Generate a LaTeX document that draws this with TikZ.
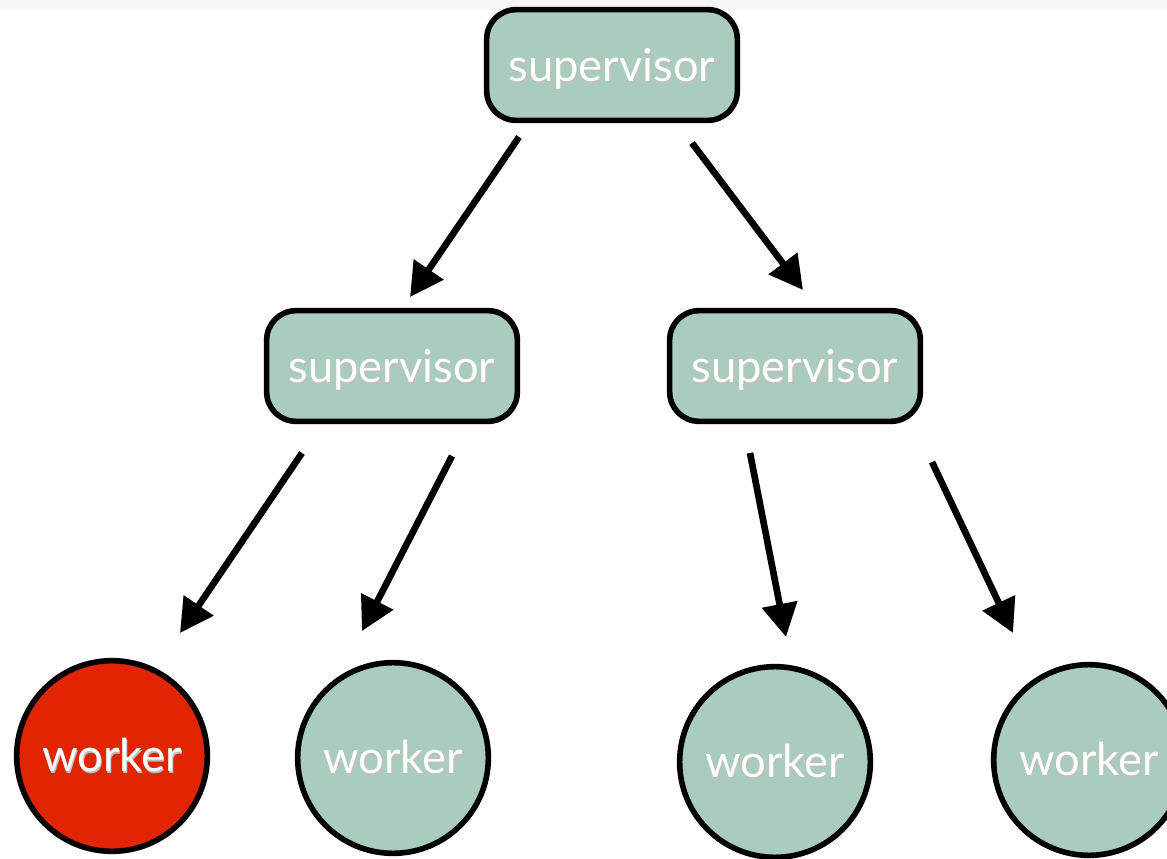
\documentclass[tikz,border=0pt]{standalone}
\usepackage{fontspec}
\setmainfont{Lato}
\usetikzlibrary{arrows.meta,calc}

\definecolor{sage}{HTML}{AACCBC}
\definecolor{alarm}{HTML}{E02500}
\definecolor{band}{HTML}{F6F6F6}

\newcommand{\glowtext}[1]{\rlap{\hspace{0.9pt}\raisebox{-1.3pt}{\textcolor{black!25}{#1}}}\textcolor{white}{#1}}

\begin{document}
\begin{tikzpicture}[x=0.75pt,y=-0.75pt,
  sup/.style={draw,line width=4.2pt,fill=sage,rounded corners=22pt,
    minimum width=188pt,minimum height=83pt,inner sep=0pt,text depth=0pt,
    font=\fontsize{34}{40}\selectfont},
  work/.style={circle,draw,line width=4.2pt,fill=sage,minimum size=143pt,
    inner sep=0pt,font=\fontsize{34}{40}\selectfont},
  link/.style={line width=5pt,-{Triangle[length=25pt,width=26pt]}}]
  \useasboundingbox (0,0) rectangle (1167,859);
  \fill[band] (0,0) rectangle (1167,10);

  % supervisors
  \node[sup] (top)  at (612,65)  {\glowtext{supervisor}};
  \node[sup] (midl) at (392,366) {\glowtext{supervisor}};
  \node[sup] (midr) at (795,366) {\glowtext{supervisor}};

  % workers
  \node[work,fill=alarm] (w1) at (112,756)  {\glowtext{worker}};
  \node[work]            (w2) at (393,758)  {\glowtext{worker}};
  \node[work]            (w3) at (775,762)  {\glowtext{worker}};
  \node[work]            (w4) at (1089,760) {\glowtext{worker}};

  % links
  \draw[link] ($(top)+(-93,72)$)  -- ($(midl)+(18,-69)$);
  \draw[link] ($(top)+(80,78)$)   -- ($(midr)+(8,-76)$);
  \draw[link] ($(midl)+(-90,87)$) -- ($(w1)+(68,-123)$);
  \draw[link] ($(midl)+(60,90)$)  -- ($(w2)+(-31,-127)$);
  \draw[link] ($(midr)+(-45,87)$) -- ($(w3)+(11,-125)$);
  \draw[link] ($(midr)+(137,96)$) -- ($(w4)+(-76,-127)$);
\end{tikzpicture}
\end{document}
